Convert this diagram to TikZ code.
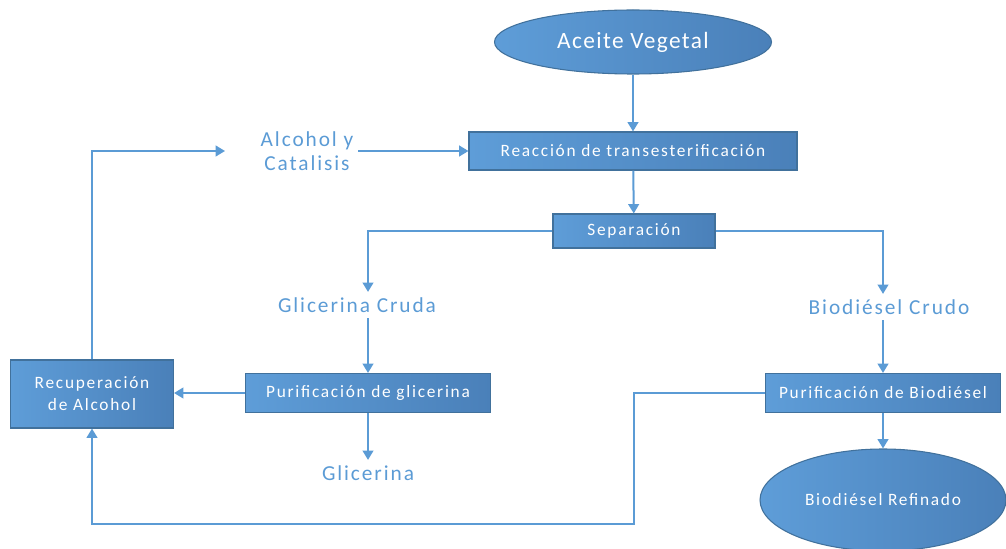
\documentclass[tikz,border=0pt]{standalone}
\usepackage{fontspec}
\setmainfont{Carlito}
\newfontfamily\boxfont[LetterSpace=10]{Carlito}
\newfontfamily\lblfont[LetterSpace=9]{Carlito}
\newfontfamily\topfont[LetterSpace=6]{Carlito}
\usetikzlibrary{arrows.meta,positioning,shapes.geometric}

\definecolor{bluel}{HTML}{5E9DD8}
\definecolor{blued}{HTML}{4A80B9}
\definecolor{blueb}{HTML}{41719C}
\definecolor{bline}{HTML}{5B9BD5}

\tikzset{
	box/.style={rectangle, draw=blueb, line width=0.8pt, left color=bluel, right color=blued, text=white, font=\boxfont\fontsize{13}{16.5}\selectfont, align=center, inner sep=0pt},
	oval/.style={ellipse, draw=blueb, line width=0.8pt, left color=bluel, right color=blued, text=white, inner sep=0pt},
	lbl/.style={text=bline, font=\lblfont\fontsize{16}{18}\selectfont, align=center, inner ysep=4pt},
	arr/.style={-{Triangle[width=8pt,length=7pt]}, draw=bline, line width=1.5pt},
}

\begin{document}
\begin{tikzpicture}[x=0.75pt,y=-0.75pt]
	\useasboundingbox (0,0) rectangle (1006,549);
	\clip (0,0) rectangle (1006,549);

	\node[oval, minimum width=207.75pt, minimum height=48pt, font=\topfont\fontsize{17.5}{20}\selectfont] (ace) at (633,42) {Aceite Vegetal};
	\node[box, minimum width=246pt, minimum height=28.5pt] (reac) at (633,151) {Reacción de transesterificación};
	\node[box, minimum width=121.5pt, minimum height=25.5pt] (sep) at (634,231) {Separación};
	\node[lbl] (alc) at (307,151) {Alcohol y\\Catalisis};
	\coordinate (alcin) at (225,151);
	\node[lbl] (gcru) at (357,305) {Glicerina Cruda};
	\node[lbl] (bcru) at (889,307) {Biodiésel Crudo};
	\node[box, minimum width=183.75pt, minimum height=29.25pt] (pgli) at (368,393) {Purificación de glicerina};
	\node[box, minimum width=176.25pt, minimum height=29.25pt] (pbio) at (883,393) {Purificación de Biodiésel};
	\node[lbl] (gli) at (368,473) {Glicerina};
	\node[box, minimum width=122.25pt, minimum height=51pt] (rec) at (92,394) {Recuperación\\de Alcohol};
	\node[oval, minimum width=184.5pt, minimum height=76.5pt, font=\boxfont\fontsize{13}{16}\selectfont] (bref) at (883,500) {Biodiésel Refinado};
	\coordinate (fb) at (634,524);

	% main line
	\draw[arr] (ace) -- (reac);
	\draw[arr] (alc) -- (reac.west);
	\draw[arr] (reac) -- (sep);
	\draw[arr] (sep.west) -| (gcru.north -| pgli.north);
	\draw[arr] (sep.east) -| (bcru.north -| pbio.north);
	\draw[arr] (gcru.south -| pgli.north) -- (pgli.north);
	\draw[arr] (bcru.south -| pbio.north) -- (pbio.north);
	\draw[arr] (pgli) -- (gli);
	\draw[arr] (pbio) -- (bref);
	% recovery loop
	\draw[arr] (pgli.west) -- (pgli.west -| rec.east);
	\draw[arr] (pbio.west) -| (fb) -| (rec.south);
	\draw[arr] (rec.north) |- (alcin);
\end{tikzpicture}
\end{document}
